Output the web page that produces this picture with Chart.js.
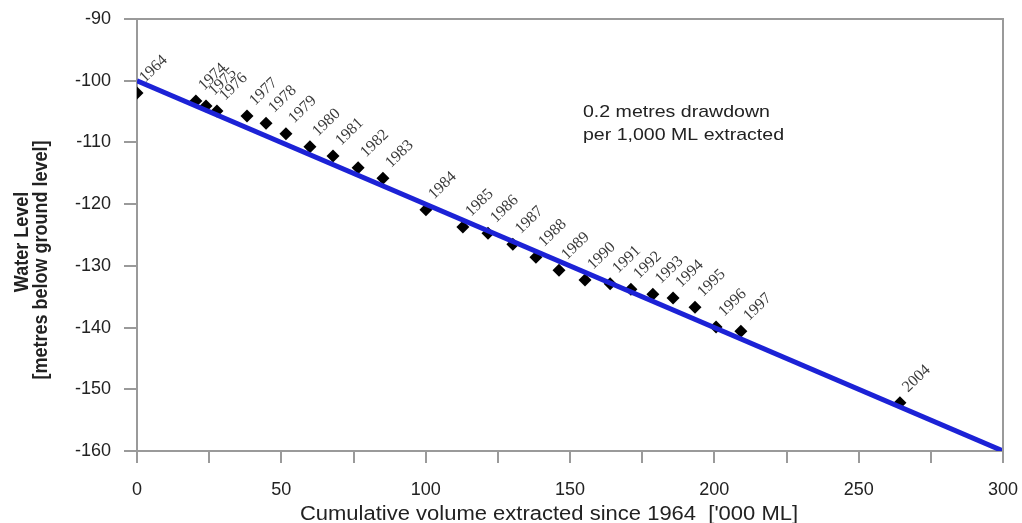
<!DOCTYPE html>
<html>
<head>
<meta charset="utf-8">
<script src="https://cdn.jsdelivr.net/npm/chart.js@4.4.0/dist/chart.umd.min.js"></script>
<style>
html,body{margin:0;padding:0;background:#fff;}
#wrap{width:1022px;height:523px;}
</style>
</head>
<body>
<div id="wrap"><canvas id="c" width="1022" height="523"></canvas></div>
<script>
// ---- data ----
const years   = ['1964','1974','1975','1976','1977','1978','1979','1980','1981','1982','1983','1984','1985','1986','1987','1988','1989','1990','1991','1992','1993','1994','1995','1996','1997','2004'];
const volumes = [0, 20.4, 23.9, 27.7, 38.1, 44.7, 51.6, 59.9, 67.9, 76.6, 85.2, 100.1, 112.9, 121.6, 130.2, 138.2, 146.2, 155.2, 163.9, 171.1, 178.7, 185.7, 193.3, 200.6, 209.2, 264.3];
const levels  = [-102.0, -103.3, -104.1, -104.9, -105.7, -106.9, -108.6, -110.7, -112.2, -114.1, -115.8, -120.9, -123.7, -124.7, -126.5, -128.6, -130.7, -132.3, -132.9, -133.8, -134.6, -135.2, -136.7, -139.9, -140.6, -152.2];
const trendX  = [0, 300];
const trendY  = [-100, -160];
const xTickStep = 25, xLabelStep = 50;
const yMin = -160, yMax = -90, yStep = 10;
const xTitle = "Cumulative volume extracted since 1964  ['000 ML]";
const yTitle = ['Water Level', '[metres below ground level]'];
const note = ['0.2 metres drawdown', 'per 1,000 ML extracted'];

const SANS = '"Liberation Sans", Arial, sans-serif';
const SERIF = '"Liberation Serif", "Times New Roman", serif';
const AXIS = '#9a9a9a';

const scatterPts = volumes.map((v,i)=>({x:v, y:levels[i]}));
const trendPts = trendX.map((v,i)=>({x:v, y:trendY[i]}));

const decor = {
  id:'decor',
  afterDatasetsDraw(chart){
    const ctx = chart.ctx;
    const meta = chart.getDatasetMeta(1);
    ctx.save();
    ctx.fillStyle = '#3a3a3a';
    ctx.font = '16px ' + SERIF;
    ctx.textAlign = 'left';
    ctx.textBaseline = 'alphabetic';
    meta.data.forEach((pt,i)=>{
      ctx.save();
      ctx.translate(pt.x + 8, pt.y - 10);
      ctx.rotate(-44*Math.PI/180);
      ctx.fillText(years[i], 0, 0);
      ctx.restore();
    });
    ctx.restore();
  },
  afterDraw(chart){
    const ctx = chart.ctx, a = chart.chartArea;
    ctx.save();
    ctx.strokeStyle = AXIS;
    ctx.lineWidth = 2;
    ctx.beginPath();
    ctx.moveTo(a.left - 13, a.top);
    ctx.lineTo(a.right, a.top);
    ctx.lineTo(a.right, a.bottom);
    ctx.stroke();
    ctx.fillStyle = '#222';
    ctx.font = '17px ' + SANS;
    ctx.textAlign = 'left';
    ctx.textBaseline = 'alphabetic';
    [[117,note[0]],[140,note[1]]].forEach(([y,t])=>{
      ctx.save(); ctx.translate(583, y); ctx.scale(1.15,1); ctx.fillText(t,0,0); ctx.restore();
    });
    ctx.font = '20px ' + SANS;
    ctx.textAlign = 'center';
    ctx.save(); ctx.translate(549, 520); ctx.scale(1.1,1); ctx.fillText(xTitle,0,0); ctx.restore();
    ctx.font = 'bold 18px ' + SANS;
    [[28,242,yTitle[0]],[47,260,yTitle[1]]].forEach(([x,y,t])=>{
      ctx.save(); ctx.translate(x, y); ctx.rotate(-Math.PI/2); ctx.scale(1,1.15); ctx.fillText(t,0,0); ctx.restore();
    });
    ctx.restore();
  }
};

new Chart(document.getElementById('c'), {
  type:'scatter',
  data:{
    datasets:[
      {type:'line', data:trendPts, borderColor:'#1c22d6', borderWidth:5, pointRadius:0, fill:false, tension:0},
      {type:'scatter', data:scatterPts, pointStyle:'rectRot', pointRadius:6.5, pointHoverRadius:6.5,
       backgroundColor:'#000', borderColor:'#000', borderWidth:0}
    ]
  },
  options:{
    responsive:false,
    animation:false,
    events:[],
    layout:{padding:{left:0, right:19, top:19, bottom:0}},
    plugins:{legend:{display:false}, tooltip:{enabled:false}},
    scales:{
      x:{
        type:'linear', min:0, max:300,
        afterFit(s){ s.height = 72; s.paddingLeft = 0; s.paddingRight = 0; },
        border:{color:AXIS, width:2},
        grid:{display:true, drawOnChartArea:false, drawTicks:true, tickLength:12, color:AXIS, lineWidth:2},
        ticks:{stepSize:xTickStep, autoSkip:false, maxRotation:0, padding:16, color:'#222',
               font:{family:SANS, size:18},
               callback:(v)=> (v % xLabelStep === 0 ? String(v) : '')}
      },
      y:{
        type:'linear', min:yMin, max:yMax,
        afterFit(s){ s.width = 137; s.paddingTop = 0; s.paddingBottom = 0; },
        border:{color:AXIS, width:2},
        grid:{display:true, drawOnChartArea:false, drawTicks:true, tickLength:13, color:AXIS, lineWidth:2},
        ticks:{stepSize:yStep, padding:13, color:'#222', font:{family:SANS, size:18},
               callback:(v)=>String(v)}
      }
    }
  },
  plugins:[decor]
});
</script>
</body>
</html>
